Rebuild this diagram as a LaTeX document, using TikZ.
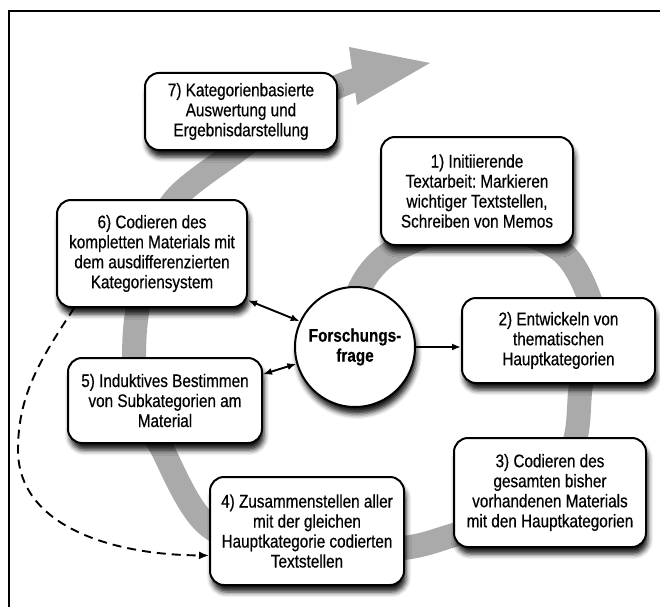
\documentclass[tikz,border=0pt]{standalone}
\usepackage{fontspec}
\setmainfont{Liberation Sans}[FakeStretch=0.84, FakeBold=0.5]
\usetikzlibrary{arrows.meta,shadows.blur}
\definecolor{ringgray}{RGB}{170,170,170}
\frenchspacing

\begin{document}
\begin{tikzpicture}[x=1pt,y=-1pt,
  boxshadow/.style={blur shadow={shadow xshift=2pt, shadow yshift=-7pt,
      shadow blur radius=5pt, shadow opacity=90}},
  stage/.style={draw, line width=2pt, rounded corners=14pt, fill=white,
      align=center, inner sep=0pt, minimum width=192pt,
      font=\fontsize{18.2}{20}\selectfont, boxshadow},
  question/.style={circle, draw, line width=2pt, fill=white, inner sep=0pt,
      minimum size=120pt, align=center,
      font=\fontsize{18.2}{20}\selectfont\bfseries, boxshadow},
  link/.style={line width=1.9pt, {Latex[length=9pt,width=7pt]}-{Latex[length=9pt,width=7pt]}},
  onelink/.style={line width=1.9pt, -{Latex[length=9pt,width=7pt]}},
  backlink/.style={line width=1.9pt, dash pattern=on 9pt off 6pt,
      -{Latex[length=10pt,width=8pt]}}]

\useasboundingbox (0,0) rectangle (660,607);

% outer frame
\draw[line width=2.5pt] (9,607) -- (9,11) -- (660,11);

% the process spiral
\draw[ringgray, line width=24pt, line join=round]
  plot[smooth, tension=0.55] coordinates {
    (356,330) (360,288) (395,250) (477,224) (557,248) (589,297)
    (593,340) (581,385) (575,440) (548,505) (454,535) (404,548)
    (307,556) (210,527) (160,445) (138,400) (135,330) (150,250)
    (176,198) (238,150) (300,106) (337,87) (358,79)};
\fill[ringgray] (349,47) -- (430,63) -- (357,105) -- cycle;

% stages
\node[stage, minimum height=77pt] (s7) at (241,111.5)
  {7) Kategorienbasierte\\Auswertung und\\Ergebnisdarstellung};
\node[stage, minimum height=108pt] (s1) at (477,191)
  {1) Initiierende\\Textarbeit: Markieren\\wichtiger Textstellen,\\Schreiben von Memos};
\node[stage, minimum width=190pt, minimum height=107pt] (s6) at (152,253.5)
  {6) Codieren des\\kompletten Materials mit\\dem ausdifferenzierten\\Kategoriensystem};
\node[stage, minimum width=193pt, minimum height=85pt] (s2) at (558.5,340.5)
  {2) Entwickeln von\\thematischen\\Hauptkategorien};
\node[stage, minimum width=194pt, minimum height=85pt] (s5) at (165,400.5)
  {5) Induktives Bestimmen\\von Subkategorien am\\Material};
\node[stage, minimum height=109pt] (s3) at (550,492.5)
  {3) Codieren des\\gesamten bisher\\vorhandenen Materials\\mit den Hauptkategorien};
\node[stage, minimum width=194pt, minimum height=108pt] (s4) at (307,531)
  {4) Zusammenstellen aller\\mit der gleichen\\Hauptkategorie codierten\\Textstellen};

% research question
\node[question] (q) at (355,347) {Forschungs-\\frage};

% connectors
\draw[link] (s6.-26) -- (q.155);
\draw[link] (s5.15) -- (q.196);
\draw[onelink] (q.east) -- (q.east -| s2.west);
\draw[backlink] (s6.215) .. controls (40,360) and (18,395) .. (18,450)
  .. controls (18,525) and (110,555) .. (s4.194);

\end{tikzpicture}
\end{document}
